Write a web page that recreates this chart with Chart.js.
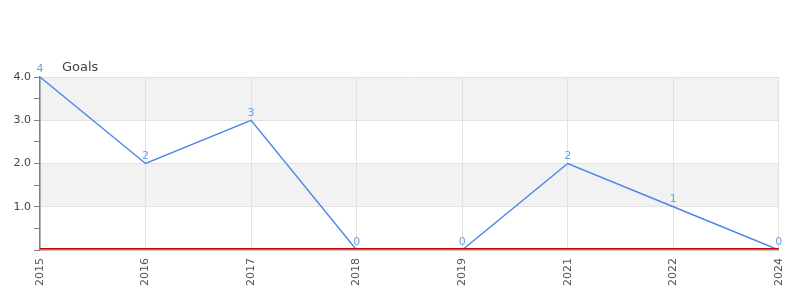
<!DOCTYPE html>
<html>
<head>
<meta charset="utf-8">
<script src="https://cdn.jsdelivr.net/npm/chart.js@4"></script>
<style>
  html, body { margin: 0; padding: 0; background: #fff; }
  #wrap { width: 800px; height: 300px; }
</style>
</head>
<body>
<div id="wrap"><canvas id="goals-line"></canvas></div>
<script>
// chart data
const years = ["2015", "2016", "2017", "2018", "2019", "2021", "2022", "2024"];
const goals = [4, 2, 3, 0, 0, 2, 1, 0];
const y_ticks = [1, 2, 3, 4];

const line_colour = "#4a86e8";
const label_colour = "#6d9eeb";

// alternating grey bands between the whole-number gridlines
const bandsPlugin = {
    id: "bands",
    beforeDraw(chart) {
        const { ctx, chartArea, scales } = chart;
        ctx.save();
        ctx.fillStyle = "#f2f2f2";
        [[3, 4], [1, 2]].forEach(([lo, hi]) => {
            const top = scales.y.getPixelForValue(hi);
            const bottom = scales.y.getPixelForValue(lo);
            ctx.fillRect(chartArea.left, top, chartArea.right - chartArea.left, bottom - top);
        });
        ctx.restore();
    }
};

// value labels, red zero line and the little title
const extrasPlugin = {
    id: "extras",
    afterDatasetsDraw(chart) {
        const { ctx, chartArea, scales } = chart;
        ctx.save();

        const y0 = Math.round(scales.y.getPixelForValue(0)) - 1.5;
        ctx.strokeStyle = "#cc0000";
        ctx.lineWidth = 1.2;
        ctx.beginPath();
        ctx.moveTo(chartArea.left, y0);
        ctx.lineTo(chartArea.right, y0);
        ctx.stroke();

        ctx.font = "11px 'DejaVu Sans', sans-serif";
        ctx.fillStyle = label_colour;
        ctx.textAlign = "center";
        ctx.textBaseline = "bottom";
        const meta = chart.getDatasetMeta(0);
        meta.data.forEach((pt, i) => {
            ctx.fillText(String(goals[i]), pt.x, pt.y - 2);
        });

        ctx.font = "13px 'DejaVu Sans', sans-serif";
        ctx.fillStyle = "#444";
        ctx.textAlign = "left";
        ctx.textBaseline = "alphabetic";
        ctx.fillText("Goals", chartArea.left + 22, chartArea.top - 6);
        ctx.restore();
    }
};

const isMajor = (v) => y_ticks.includes(v);

const config_line = {
    type: "line",
    data: {
        labels: years,
        datasets: [{
            label: "Goals",
            data: goals,
            borderColor: line_colour,
            backgroundColor: line_colour,
            borderWidth: 1.4,
            pointRadius: 0,
            tension: 0,
            fill: false
        }]
    },
    options: {
        responsive: true,
        maintainAspectRatio: false,
        animation: false,
        layout: {
            padding: { top: 77, right: 20, left: 0, bottom: 0 }
        },
        plugins: {
            legend: { display: false },
            tooltip: { enabled: false }
        },
        scales: {
            x: {
                type: "category",
                offset: false,
                afterFit(scale) { scale.height = 50; },
                border: { color: "#808080", width: 1.5 },
                grid: {
                    color: "#e2e2e2",
                    drawTicks: false
                },
                ticks: {
                    color: "#555",
                    font: { family: "'DejaVu Sans', sans-serif", size: 11 },
                    minRotation: 90,
                    maxRotation: 90,
                    padding: 8,
                    autoSkip: false
                }
            },
            y: {
                min: 0,
                max: 4,
                afterFit(scale) { scale.width = 40; },
                border: { color: "#808080", width: 1.5 },
                grid: {
                    color: (ctx) => (ctx.tick && isMajor(ctx.tick.value)) ? "#e2e2e2" : "rgba(0,0,0,0)",
                    tickColor: "#808080",
                    tickLength: 6
                },
                ticks: {
                    stepSize: 0.5,
                    color: "#444",
                    padding: 3,
                    font: { family: "'DejaVu Sans', sans-serif", size: 11 },
                    callback: (v) => isMajor(v) ? v.toFixed(1) : ""
                }
            }
        }
    },
    plugins: [bandsPlugin, extrasPlugin]
};

const line_chart = new Chart(document.getElementById("goals-line").getContext("2d"), config_line);
</script>
</body>
</html>
